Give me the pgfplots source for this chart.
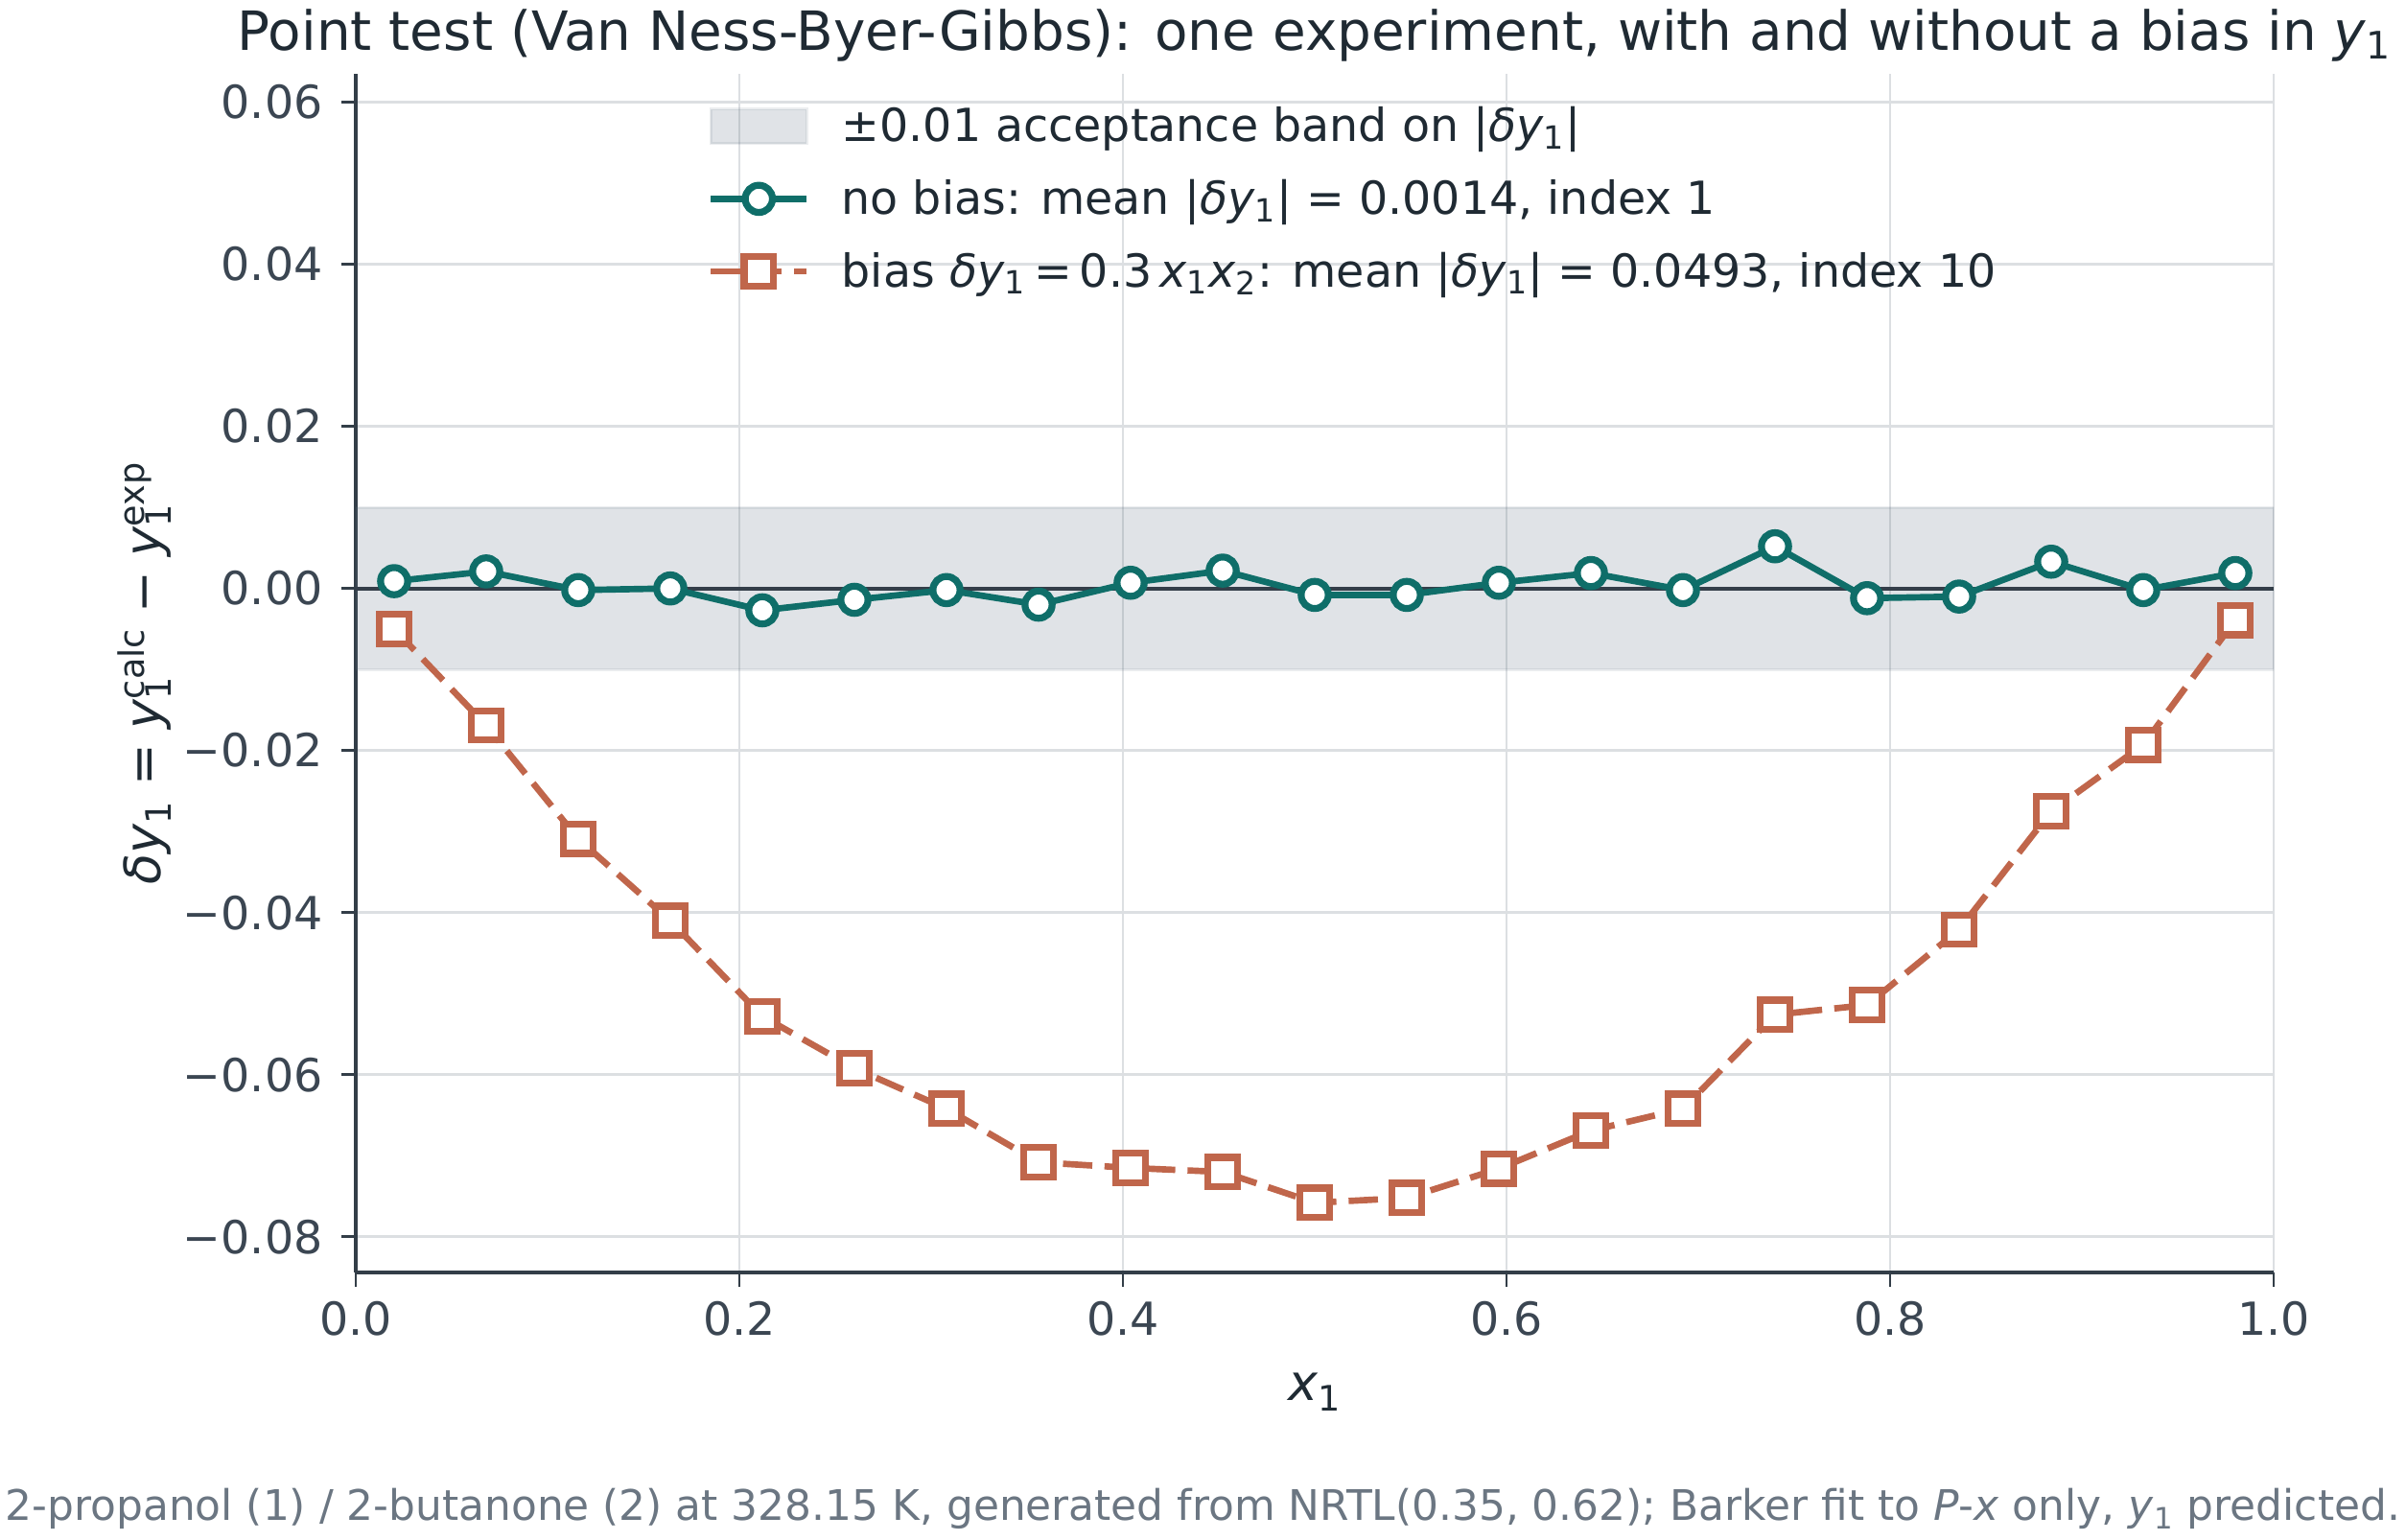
\documentclass[border=0pt]{standalone}
\usepackage{fontspec}
\setmainfont{DejaVu Sans}
\usepackage{pgfplots}
\usepackage{pgfplotstable}
\pgfplotsset{compat=1.18}
\definecolor{teal1}{HTML}{0F6E69}
\definecolor{rust}{HTML}{C0664B}
\definecolor{spine}{HTML}{333E48}
\definecolor{tickc}{HTML}{3B4652}
\definecolor{titlec}{HTML}{1F2A33}
\definecolor{capc}{HTML}{6B7682}
\definecolor{gridc}{HTML}{DCDFE2}
\definecolor{bandc}{HTML}{5A6B7D}
\definecolor{zeroc}{HTML}{343E49}
\newcommand{\sub}[1]{\textsubscript{#1}}
\newcommand{\subsup}[2]{\makebox[0pt][l]{\textsubscript{#1}}\textsuperscript{#2}}
\newcommand{\ms}{\hspace{0.29em}}
\pgfplotsset{
  bandlegend/.style={legend image code/.code={\draw[##1] (0pt,-6.5pt) rectangle (36pt,6.5pt);}},
  linelegend/.style={legend image code/.code={\draw[mark repeat=2,mark phase=2,##1] plot coordinates {(0pt,0pt) (18pt,0pt) (36pt,0pt)};}},
}

\pgfplotstableread{
x      nobias   bias
0.020  0.0009  -0.0050
0.068  0.0021  -0.0169
0.116 -0.0002  -0.0309
0.164  0.0000  -0.0410
0.212 -0.0027  -0.0528
0.260 -0.0014  -0.0592
0.308 -0.0002  -0.0642
0.356 -0.0020  -0.0708
0.404  0.0007  -0.0715
0.452  0.0022  -0.0720
0.500 -0.0008  -0.0758
0.548 -0.0008  -0.0752
0.596  0.0007  -0.0716
0.644  0.0019  -0.0669
0.692 -0.0002  -0.0642
0.740  0.0052  -0.0526
0.788 -0.0012  -0.0514
0.836 -0.0010  -0.0421
0.884  0.0033  -0.0275
0.932 -0.0002  -0.0193
0.980  0.0019  -0.0039
}\datatable

\begin{document}
\begin{tikzpicture}
\path[use as bounding box] (0,0) rectangle (903.24pt,578.16pt);
\begin{axis}[
  at={(133.56pt,100.44pt)}, anchor=south west,
  scale only axis, width=720pt, height=450pt,
  xmin=0, xmax=1, ymin=-0.0844, ymax=0.0635,
  scaled y ticks=false, scaled x ticks=false,
  axis lines=left,
  axis line style={-, spine, line width=1.1pt},
  tick align=outside,
  major tick length=5.4pt,
  tick style={spine, line width=1pt},
  xtick={0,0.2,0.4,0.6,0.8,1},
  xticklabels={0.0,0.2,0.4,0.6,0.8,1.0},
  ytick={-0.08,-0.06,-0.04,-0.02,0,0.02,0.04,0.06},
  yticklabels={−0.08,−0.06,−0.04,−0.02,0.00,0.02,0.04,0.06},
  ticklabel style={font=\fontsize{17.1}{21}\selectfont, text=tickc},
  xticklabel style={anchor=base, inner sep=0pt, yshift=-18.36pt},
  yticklabel style={anchor=east, inner sep=0pt, xshift=-6.84pt},
  grid=major, grid style={gridc, line width=1pt},
  xlabel={\textit{x}\sub{1}},
  ylabel={\textit{δy}\sub{1}\ms=\ms\textit{y}\subsup{1}{calc}\ms−\ms\textit{y}\subsup{1}{exp}},
  label style={font=\fontsize{18.8}{22}\selectfont, text=titlec},
  xlabel style={at={(axis description cs:0.5,-0.1072)}, anchor=base},
  ylabel style={at={(axis description cs:-0.1015,0.5)}, anchor=base},
  legend style={at={(0.1835,0.9766)}, anchor=north west, draw=none, fill=none,
    inner sep=0pt, outer sep=0pt, row sep=8.8pt, column sep=11.9pt,
    font=\fontsize{17.1}{20}\selectfont, text=titlec,
    nodes={inner sep=0pt, text height=15pt, text depth=3.4pt}},
  legend cell align=left,
]
\addplot[fill=bandc, fill opacity=0.19, draw=bandc, draw opacity=0.12, line width=1pt,
  area legend, bandlegend]
  coordinates {(0,-0.01) (1,-0.01) (1,0.01) (0,0.01) (0,-0.01)};
\addlegendentry{±0.01 acceptance band on |\textit{δy}\sub{1}|}
\addplot[zeroc, line width=1.4pt, forget plot] coordinates {(0,0) (1,0)};
\addplot[teal1, line width=2.4pt, mark=*, mark size=5.1pt,
  mark options={fill=white, draw=teal1, line width=2.6pt}, linelegend]
  table[x=x, y=nobias] {\datatable};
\addlegendentry{no bias: mean |\textit{δy}\sub{1}| = 0.0014, index 1}
\addplot[rust, line width=2.4pt, dash pattern=on 11pt off 4.6pt, mark=square*, mark size=5.5pt,
  mark options={fill=white, draw=rust, line width=2.6pt, solid}, linelegend]
  table[x=x, y=bias] {\datatable};
\addlegendentry{bias \textit{δy}\sub{1}\,=\,0.3\,\textit{x}\sub{1}\textit{x}\sub{2}: mean |\textit{δy}\sub{1}| = 0.0493, index 10}
\end{axis}
\node[anchor=base, font=\fontsize{20.3}{24}\selectfont, text=titlec] at (493.56pt,559.1pt)
  {Point test (Van Ness-Byer-Gibbs): one experiment, with and without a bias in \textit{y}\sub{1}};
\node[anchor=base, font=\fontsize{15.8}{20}\selectfont, text=capc] at (451.6pt,7.2pt)
  {2-propanol (1) / 2-butanone (2) at 328.15 K, generated from NRTL(0.35, 0.62); Barker fit to \textit{P}-\textit{x} only, \textit{y}\sub{1} predicted.};
\end{tikzpicture}
\end{document}
